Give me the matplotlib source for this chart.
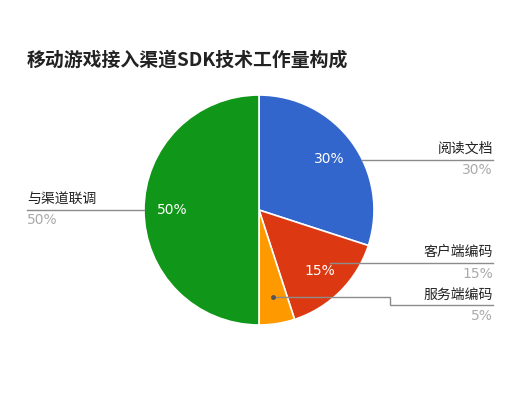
import matplotlib
matplotlib.use('Agg')
import matplotlib.pyplot as plt
import numpy as np

plt.rcParams['font.family'] = ['Noto Sans CJK SC', 'DejaVu Sans']

title = '移动游戏接入渠道SDK技术工作量构成'
categories = ['阅读文档', '客户端编码', '服务端编码', '与渠道联调']
shares = [30, 15, 5, 50]
colors = ['#3366CC', '#DC3912', '#FF9900', '#109618']

W, H = 526, 400
cx, cy, r = 259, 190, 115   # pie centre / radius (pixels, y up)

fig = plt.figure(figsize=(W / 100, H / 100), dpi=100)
ax = fig.add_axes([0, 0, 1, 1])
ax.set_xlim(0, W)
ax.set_ylim(0, H)
ax.set_aspect('equal')
ax.axis('off')

wedges, _ = ax.pie(shares, colors=colors, startangle=90, counterclock=False,
                   center=(cx, cy), radius=r,
                   wedgeprops=dict(edgecolor='white', linewidth=1.2))
ax.set_xlim(0, W)
ax.set_ylim(0, H)

# percentage text inside the bigger slices
for w, v in zip(wedges, shares):
    if v < 10:
        continue
    ang = np.deg2rad((w.theta1 + w.theta2) / 2)
    ax.text(cx + 0.75 * r * np.cos(ang), cy + 0.75 * r * np.sin(ang), '%d%%' % v,
            color='white', fontsize=10, ha='center', va='center',
            family=['DejaVu Sans'])

# leader lines: (anchor angle, anchor radius, side, step down)
anchors = [(26, 1.0, 'right', 0), (-37, 0.77, 'right', 0),
           (-81, 0.77, 'right', 8), (180, 1.0, 'left', 0)]
line_col = '#8c8c8c'
for (a, rr, side, step), name, v in zip(anchors, categories, shares):
    ang = np.deg2rad(a)
    x0 = cx + rr * r * np.cos(ang)
    y0 = cy + rr * r * np.sin(ang)
    if side == 'right':
        xe = 493
        if step:
            xs = 390
            ax.plot([x0, xs, xs, xe], [y0, y0, y0 - step, y0 - step],
                    color=line_col, lw=1, solid_joinstyle='miter')
            ax.plot(x0, y0, 'o', color='#555555', ms=2.5)
        else:
            ax.plot([x0, xe], [y0, y0], color=line_col, lw=1)
        yl = y0 - step
        ha = 'right'
        xt = xe
    else:
        xe = 27
        ax.plot([xe, x0], [y0, y0], color=line_col, lw=1)
        yl = y0
        ha = 'left'
        xt = xe
    ax.text(xt, yl + 4, name, ha=ha, va='bottom', fontsize=10, color='#222222',
            fontweight='medium')
    ax.text(xt, yl - 3.5, '%d%%' % v, ha=ha, va='top', fontsize=10, color='#aaaaaa',
            family=['DejaVu Sans'])

ax.text(27, H - 60, title, ha='left', va='center', fontsize=13.6,
        fontweight='bold', color='#222222')

fig.savefig('out.png', dpi=100)
